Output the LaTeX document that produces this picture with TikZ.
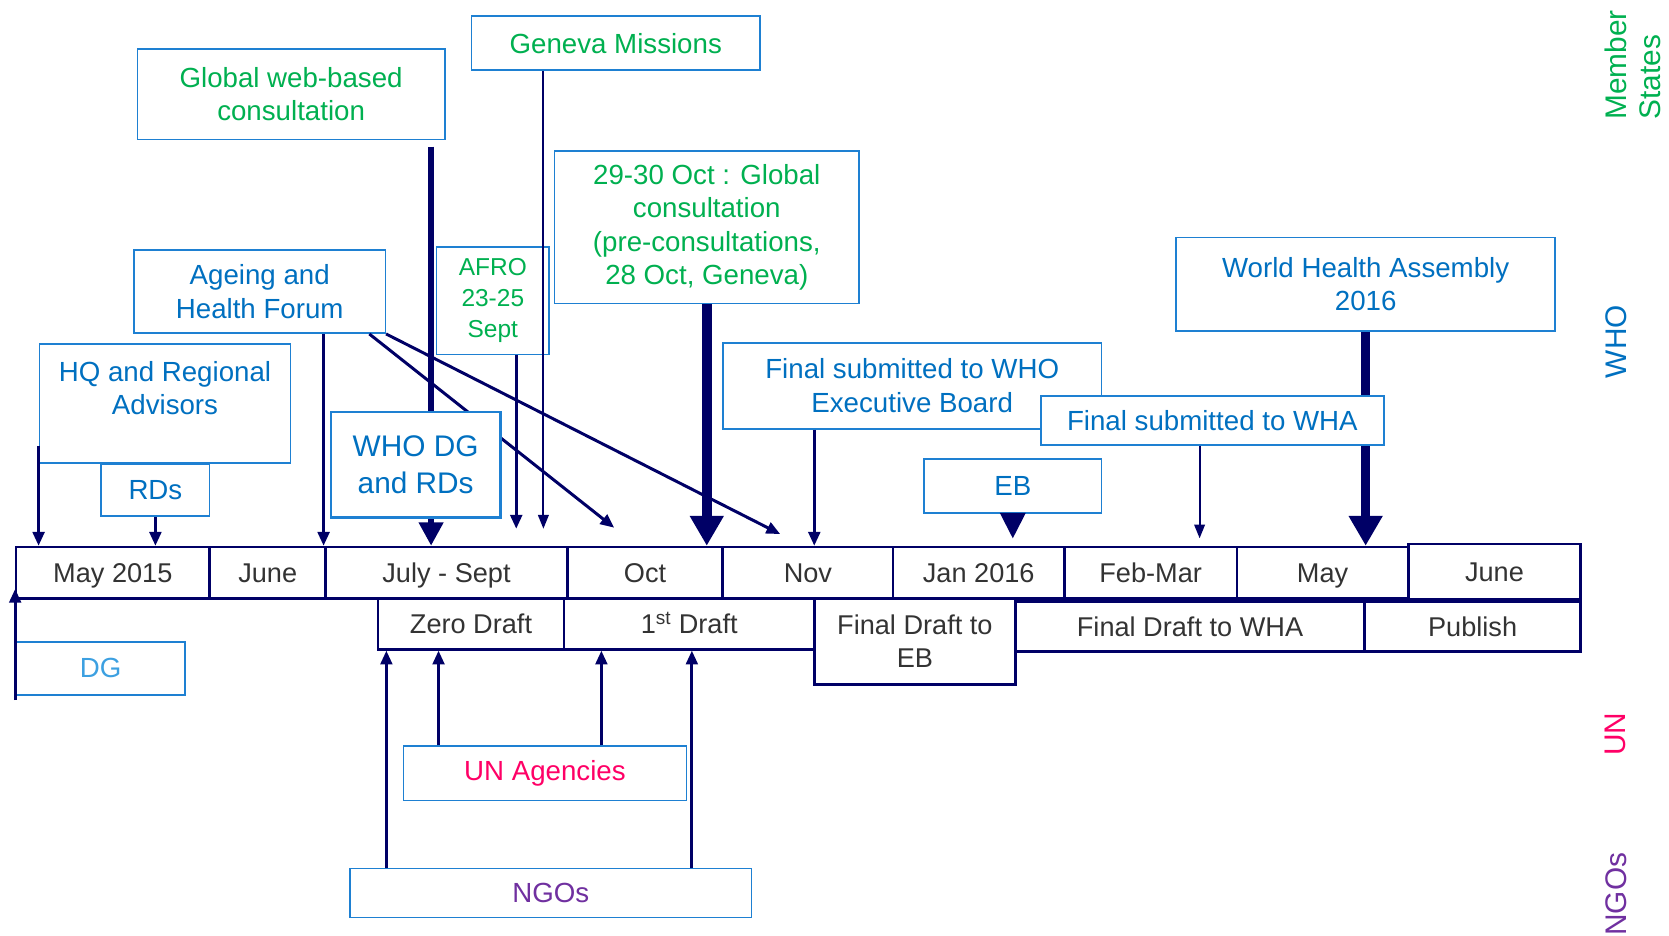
\documentclass[tikz,border=0pt]{standalone}
\usepackage{fontspec}
\setmainfont{Liberation Sans}
\usetikzlibrary{arrows.meta}
\definecolor{marine}{RGB}{0,0,102}
\definecolor{bordbleu}{RGB}{30,128,210}
\definecolor{texbleu}{RGB}{0,112,192}
\definecolor{vert}{RGB}{0,176,80}
\definecolor{rose}{RGB}{255,0,102}
\definecolor{mauve}{RGB}{112,48,160}
\definecolor{gris}{RGB}{51,51,51}
\definecolor{dgbleu}{RGB}{60,160,225}
\begin{document}
\begin{tikzpicture}[x=1pt,y=-1pt]
    \tikzstyle{boite}=[draw=bordbleu,line width=1.5pt,fill=white,align=center,inner sep=0pt,text=texbleu,font=\fontsize{26}{31.5}\selectfont]
    \tikzstyle{cadre}=[draw=marine,line width=2.5pt,align=center,inner sep=0pt,text=gris,minimum height=48pt,font=\fontsize{25.5}{31}\selectfont]
    \tikzstyle{mois}=[cadre,text height=19pt,text depth=0pt]
    \tikzstyle{fleche}=[-{Triangle[length=13pt,width=11pt]},marine,line width=2.8pt]
    \tikzstyle{fine}=[-{Triangle[length=13pt,width=10pt]},marine,line width=1.8pt]
    \tikzstyle{grosse}=[-{Triangle[length=28pt,width=30pt]},marine,line width=9pt]
    \tikzstyle{groupe}=[rotate=90,align=center,font=\fontsize{28}{32}\selectfont]
  \useasboundingbox (0,0) rectangle (1568,879);
  \node[mois,minimum width=182pt] (may15) at (106,538) {May 2015};
  \node[mois,minimum width=109pt] (juin15) at (251.5,538) {June};
  \node[mois,minimum width=227pt] (julsep) at (419.5,538) {July - Sept};
  \node[mois,minimum width=146pt] (oct) at (606,538) {Oct};
  \node[mois,minimum width=160pt] (nov) at (759,538) {Nov};
  \node[mois,minimum width=161pt] (jan16) at (919.5,538) {Jan 2016};
  \node[mois,minimum width=162pt] (febmar) at (1081,538) {Feb-Mar};
  \node[mois,minimum width=161pt] (may16) at (1242.5,538) {May};
  \node[mois,minimum width=162pt,minimum height=52pt] (juin16) at (1404,537) {June};
  \node[mois,minimum width=175pt] (zero) at (442.5,586) {Zero Draft};
  \node[mois,minimum width=235pt] (draft1) at (647.5,586) {1\textsuperscript{st} Draft};
  \node[cadre,minimum width=189pt,minimum height=81pt] (finaldraft) at (859.5,602.5) {Final Draft to\\EB};
  \node[mois,minimum width=328pt,minimum height=47pt] (finalwha) at (1118,588.5) {Final Draft to WHA};
  \node[mois,minimum width=203pt,minimum height=47pt] (publish) at (1383.5,588.5) {Publish};
  \node[boite,text=vert,minimum width=271pt,minimum height=51pt] (geneve) at (578.5,40.5) {Geneva Missions};
  \node[boite,text=vert,minimum width=289pt,minimum height=85pt] (web) at (273.5,88.5) {Global web-based\\consultation};
  \node[boite,text=vert,minimum width=286pt,minimum height=143pt] (consult) at (664,213.5) {29-30 Oct : Global\\consultation\\(pre-consultations,\\28 Oct, Geneva)};
  \node[boite,text=vert,minimum width=106pt,minimum height=101pt,font=\fontsize{23}{29}\selectfont] (afro) at (463,282.5) {AFRO\\23-25\\Sept};
  \node[boite,minimum width=236pt,minimum height=78pt] (forum) at (244,274) {Ageing and\\Health Forum};
  \node[boite,minimum width=236pt,minimum height=112pt] (hq) at (155,379) {HQ and Regional\\Advisors\\[-12pt]\strut};
  \node[boite,minimum width=102pt,minimum height=49pt] (rds) at (146,460.5) {RDs};
  \node[boite,minimum width=356pt,minimum height=81pt] (finaleb) at (857,362.5) {Final submitted to WHO\\Executive Board};
  \node[boite,minimum width=356pt,minimum height=88pt] (wha) at (1283,267) {World Health Assembly\\2016};
  \node[boite,minimum width=167pt,minimum height=51pt] (eb) at (951.5,456.5) {EB};
  \node[boite,text=dgbleu,minimum width=159pt,minimum height=50pt] (dg) at (94.5,628) {DG};
  \node[boite,text=rose,minimum width=266pt,minimum height=51pt] (un) at (512,726.5) {UN Agencies};
  \node[boite,text=mauve,minimum width=377pt,minimum height=46pt] (ngo) at (517.5,839) {NGOs};
  \draw[-{Triangle[length=22pt,width=22pt]},marine,line width=5.5pt] ([xshift=131.5pt,yshift=-6pt]web.south) -- ([xshift=131.5pt]web.south |- julsep.north);
  \draw[fleche] ([xshift=103pt]forum.south) -- ([xshift=-29pt,yshift=17pt]oct.north);
  \draw[fleche] (forum.south east) -- ([xshift=-26pt,yshift=11pt]nov.north);
  \draw[grosse] (wha.south) -- (wha.south |- may16.north);
  \node[boite,line width=2.5pt,minimum width=159pt,minimum height=99pt,font=\fontsize{28}{35}\selectfont] (whodg) at (390.5,436.5) {WHO DG\\and RDs};
  \node[boite,minimum width=322pt,minimum height=46pt] (finalsub) at (1139,395) {Final submitted to WHA};
  \draw[fleche] ([yshift=17pt]hq.south west) -- (hq.south west |- may15.north);
  \draw[fleche] (rds.south) -- (rds.south |- may15.north);
  \draw[fleche] ([xshift=60pt]forum.south) -- ([xshift=60pt]forum.south |- juin15.north);
  \draw[fleche,shorten >=16pt] ([xshift=22pt]afro.south) -- ([xshift=22pt]afro.south |- julsep.north);
  \draw[fine,shorten >=16pt] ([xshift=-68pt]geneve.south) -- ([xshift=-68pt]geneve.south |- julsep.north);
  \draw[grosse] (consult.south) -- (consult.south |- oct.north);
  \draw[fleche] ([xshift=-92pt]finaleb.south) -- ([xshift=-92pt]finaleb.south |- nov.north);
  \draw[-{Triangle[length=24pt,width=24pt]},marine,line width=2pt,shorten >=7pt] (eb.south) -- (eb.south |- jan16.north);
  \draw[fine,shorten >=7pt] ([xshift=-12pt]finalsub.south) -- ([xshift=-12pt]finalsub.south |- febmar.north);
  \draw[fleche] ([yshift=-4pt]dg.south west) -- ([yshift=10pt]dg.south west |- may15.south);
  \draw[fleche] ([xshift=-154.5pt]ngo.north) -- ([xshift=-154.5pt]ngo.north |- zero.south);
  \draw[fleche] ([xshift=-100pt]un.north) -- ([xshift=-100pt]un.north |- zero.south);
  \draw[fleche] ([xshift=53pt]un.north) -- ([xshift=53pt]un.north |- draft1.south);
  \draw[fleche] ([xshift=132.5pt]ngo.north) -- ([xshift=132.5pt]ngo.north |- draft1.south);
  \node[groupe,align=left,text=vert] (membres) at (1534,61) {Member\\States};
  \node[groupe,text=texbleu] (oms) at (1518,321) {WHO};
  \node[groupe,text=rose] (onu) at (1518,690) {UN};
  \node[groupe,text=mauve] (ong) at (1518,840) {NGOs};
\end{tikzpicture}
\end{document}
